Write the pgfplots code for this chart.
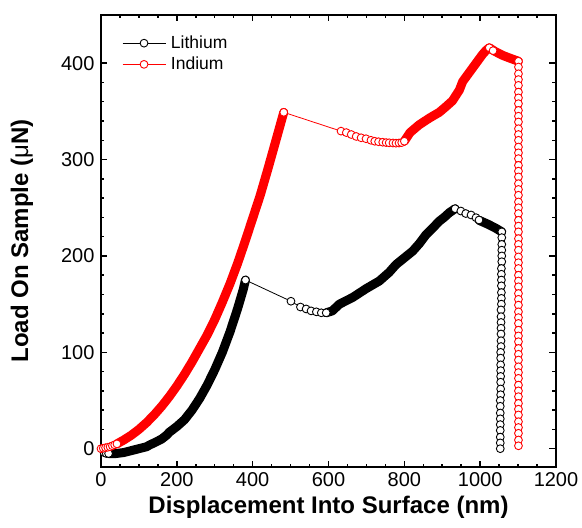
\documentclass[border=0pt]{standalone}
\usepackage{fontspec}
\setmainfont{Liberation Sans}
\usepackage{pgfplots}
\usepackage{pgfplotstable}
\pgfplotsset{compat=1.18}

% Lithium, split where the markers are dense (band) or sparse (open circles)
\pgfplotstableread{
x y
8 -4
14 -5
20 -5
}\LiA
\pgfplotstableread{
x y
20 -5
40 -5
60 -4
80 -2
100 0
120 2
129 4
140 6
160 10
173 14
180 17
200 23
220 30
240 40
260 52
280 66
300 82
320 100
340 121
360 145
375 165
381 175
}\LiB
\pgfplotstableread{
x y
381 175
501 153
526 147
541 145
554 143
568 142
581 141
594 141
}\LiC
\pgfplotstableread{
x y
594 141
610 143
629 150
664 157
699 166
734 174
760 183
778 191
800 198
822 205
840 213
857 222
875 229
892 236
905 240
919 245
934 249
}\LiD
\pgfplotstableread{
x y
934 249
949 246.6
962 244
976 242.5
989 239.7
997 237.3
}\LiE
\pgfplotstableread{
x y
997 237
1020 233
1040 229
1057 225
}\LiF
\pgfplotstableread{
x y
1057 225
1057 219
1057 212
1057 206
1057 200
1057 194
1056 187
1056 181
1056 175
1056 169
1056 162
1056 156
1056 150
1055 144
1055 137
1055 131
1055 125
1055 119
1055 112
1055 106
1054 100
1054 94
1054 87
1054 81
1054 75
1054 69
1054 62
1054 56
1053 50
1053 44
1053 37
1053 31
1053 25
1053 19
1053 12
1053 6
1053 0
}\LiG

% Indium
\pgfplotstableread{
x y
0 0
6 0.5
12 1
18 1.5
24 2
30 3
36 4
42 5
}\InA
\pgfplotstableread{
x y
42 5
60 9
80 14
100 20
120 27
140 35
160 44
180 54
200 65
220 77
240 90
260 104
280 118
300 134
320 152
340 171
360 192
380 215
400 239
420 263
440 290
460 318
482 349
}\InB
\pgfplotstableread{
x y
482 349
633 329.5
647 328
660 326
673 324
686 322.6
699 321.6
712 320
722 319
732 318.5
743 318
752 317.6
760 317.4
770 317.2
778 317
786 317.2
793 317.6
800 319
}\InC
\pgfplotstableread{
x y
800 319
815 328
839 336
866 343
892 349
910 355
927 361
945 372
954 381
967 388
980 395
993 402
1006 409
1015 413
1024 416
1040 412
1060 408
1080 405
1101 402
}\InD
\pgfplotstableread{
x y
1101 402
1101 396
1101 389
1101 383
1101 377
1101 370
1101 364
1101 358
1101 351
1101 345
1101 339
1101 332
1101 326
1101 320
1101 313
1101 307
1101 301
1101 294
1101 288
1101 282
1101 275
1101 269
1101 263
1101 256
1101 250
1101 244
1101 237
1101 231
1101 225
1101 218
1101 212
1101 206
1101 199
1101 193
1101 187
1101 180
1101 174
1101 168
1101 161
1101 155
1101 149
1101 142
1101 136
1101 130
1101 123
1101 117
1101 111
1101 104
1101 98
1101 92
1101 85
1101 79
1101 73
1101 66
1101 60
1101 54
1101 47
1101 41
1101 35
1101 28
1101 22
1101 16
1101 9
1101 3
}\InE

\pgfplotsset{
  ln/.style={#1, line width=0.8pt, no markers, forget plot},
  band/.style={#1, line width=9pt, line cap=round, line join=round, no markers, forget plot},
  circ/.style={#1, only marks, mark=*, mark size=3.9pt,
    mark options={fill=white, line width=0.9pt}, forget plot},
}

\begin{document}
\begin{tikzpicture}
\path[use as bounding box] (-101pt,-61pt) rectangle (481pt,467pt);
\begin{axis}[
  scale only axis, width=455pt, height=452pt,
  xmin=0, xmax=1200, ymin=-19, ymax=450,
  xtick={0,200,...,1200}, ytick={0,100,...,400},
  minor x tick num=3, minor y tick num=4,
  tick align=inside,
  major tick length=6.5pt, minor tick length=3.5pt,
  axis line style={line width=2pt},
  tick style={black, line width=1.5pt},
  /pgf/number format/assume math mode=true,
  /pgf/number format/1000 sep={},
  ticklabel style={font=\fontsize{20}{24}\selectfont},
  xticklabel style={yshift=-2pt},
  yticklabel style={xshift=-3pt},
  xlabel={Displacement Into Surface (nm)},
  ylabel={Load On Sample ({\mdseries μ}N)},
  label style={font=\fontsize{24}{28}\selectfont\bfseries},
  xlabel style={at={(axis description cs:0.5,-0.0885)}, anchor=center},
  ylabel style={at={(axis description cs:-0.1736,0.5)}, anchor=center},
  clip=false,
  legend image code/.code={\draw[mark repeat=2,mark phase=2] plot coordinates {(0pt,0pt) (21.5pt,0pt) (43pt,0pt)};},
  legend cell align=left,
  legend style={draw=none, fill=none, at={(axis description cs:0.046,0.956)}, anchor=north west,
    font=\fontsize{17.5}{20}\selectfont, inner sep=0pt, row sep=5pt, nodes={inner sep=1pt},
    /tikz/every odd column/.append style={column sep=4pt}},
]
\addlegendimage{black, line width=0.8pt, mark=*, mark size=3.9pt, mark options={fill=white, line width=0.9pt}}
\addlegendentry{Lithium}
\addlegendimage{red, line width=0.8pt, mark=*, mark size=3.9pt, mark options={fill=white, line width=0.9pt}}
\addlegendentry{Indium}

% Lithium
\addplot[ln=black] table {\LiA};
\addplot[ln=black] table {\LiC};
\addplot[ln=black] table {\LiE};
\addplot[ln=black] table {\LiG};
\addplot[band=black] table {\LiB};
\addplot[band=black] table {\LiD};
\addplot[band=black] table {\LiF};
\addplot[circ=black] table {\LiA};
\addplot[circ=black] table {\LiC};
\addplot[circ=black] table {\LiE};
\addplot[circ=black] table {\LiG};

% Indium
\addplot[ln=red] table {\InA};
\addplot[ln=red] table {\InC};
\addplot[ln=red] table {\InE};
\addplot[band=red] table {\InB};
\addplot[band=red] table {\InD};
\addplot[circ=red] table {\InA};
\addplot[circ=red] table {\InC};
\addplot[circ=red] coordinates {(1024,416) (1034,413)};
\addplot[circ=red] table {\InE};
\end{axis}
\end{tikzpicture}
\end{document}
